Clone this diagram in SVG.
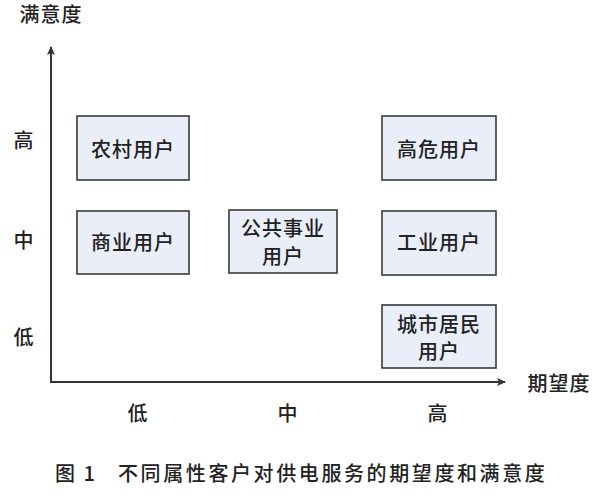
<svg xmlns="http://www.w3.org/2000/svg" width="593" height="501" viewBox="0 0 593 501">
<style>
.box{fill:#e9eef9;stroke:#3a3a3a;stroke-width:1.6}
.t{font-family:"Noto Sans CJK SC","Noto Sans",sans-serif;font-size:20px;font-weight:500;letter-spacing:1px;fill:#222;text-anchor:middle}
.lab{font-family:"Noto Sans CJK SC","Noto Sans",sans-serif;font-size:20px;font-weight:500;letter-spacing:1px;fill:#222;text-anchor:middle}
.ax{stroke:#333;stroke-width:2;fill:none}
</style>
<defs>
<marker id="arr" markerWidth="10" markerHeight="10" refX="8" refY="5" orient="auto" markerUnits="userSpaceOnUse">
<path d="M0,1 L9,5 L0,9 L2,5 Z" fill="#333"/>
</marker>
</defs>
<rect width="593" height="501" fill="#fff"/>
<g id="connectors">
<line class="ax" x1="51" y1="383" x2="51" y2="47" marker-end="url(#arr)"/>
<line class="ax" x1="50" y1="382" x2="505" y2="382" marker-end="url(#arr)"/>
</g>
<g id="labels">
<text class="lab" x="51" y="22">满意度</text>
<text class="lab" x="24" y="148">高</text>
<text class="lab" x="24" y="248">中</text>
<text class="lab" x="24" y="345">低</text>
<text class="lab" x="138" y="421">低</text>
<text class="lab" x="288" y="421">中</text>
<text class="lab" x="438" y="421">高</text>
<text class="lab" x="559" y="391">期望度</text>
<text class="lab" x="55" y="481" style="text-anchor:start;letter-spacing:2px">图 1</text>
<text class="lab" x="118" y="481" style="text-anchor:start;letter-spacing:2.6px">不同属性客户对供电服务的期望度和满意度</text>
</g>
<g id="n1"><rect class="box" x="77" y="116" width="112" height="64"/><text class="t" x="133" y="157">农村用户</text></g>
<g id="n2"><rect class="box" x="77" y="211" width="112" height="63"/><text class="t" x="133" y="250">商业用户</text></g>
<g id="n3"><rect class="box" x="229" y="210" width="108" height="63"/><text class="t" x="283" y="236">公共事业</text><text class="t" x="283" y="264">用户</text></g>
<g id="n4"><rect class="box" x="382" y="116" width="114" height="64"/><text class="t" x="439" y="157">高危用户</text></g>
<g id="n5"><rect class="box" x="382" y="211" width="114" height="64"/><text class="t" x="439" y="250">工业用户</text></g>
<g id="n6"><rect class="box" x="382" y="305" width="114" height="63"/><text class="t" x="439" y="332">城市居民</text><text class="t" x="439" y="359">用户</text></g>
</svg>
